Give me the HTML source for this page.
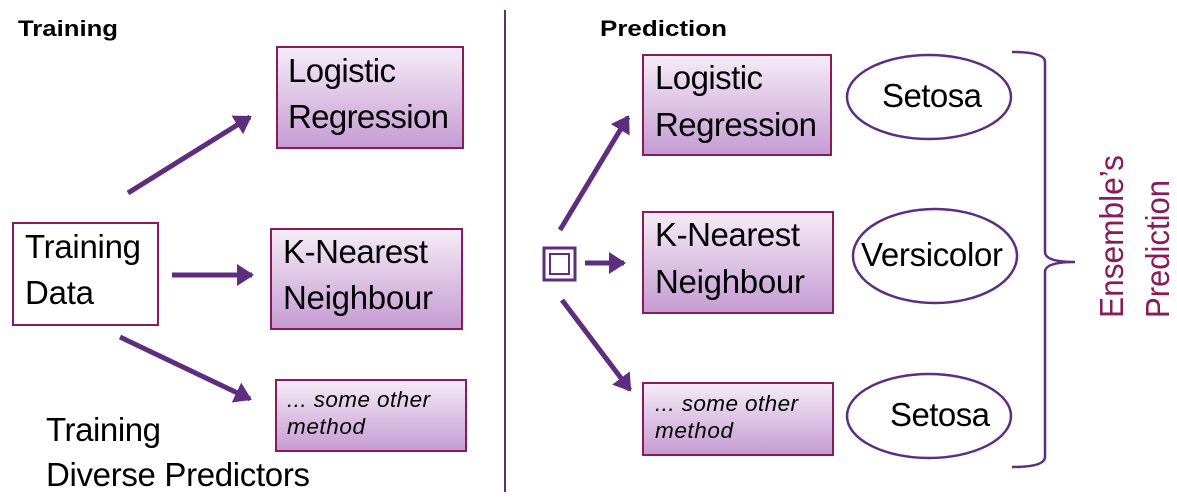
<!DOCTYPE html>
<html><head><style>body{margin:0;background:#fff}svg{display:block}</style></head><body>
<svg width="1177" height="502" viewBox="0 0 1177 502" font-family="Liberation Sans, sans-serif">
<defs>
<linearGradient id="g" x1="0" y1="0" x2="0" y2="1"><stop offset="0" stop-color="#f6ecf7"/><stop offset="1" stop-color="#c59bd3"/></linearGradient>
<marker id="a" markerWidth="6" markerHeight="6" refX="3" refY="3" orient="auto" markerUnits="strokeWidth"><path d="M0,0.8 L3.4,3 L0,5.2 z" fill="#5e2d7e"/></marker>
</defs>
<text x="18" y="36" font-size="22" font-weight="bold" textLength="100" lengthAdjust="spacingAndGlyphs">Training</text>
<text x="600" y="36" font-size="22" font-weight="bold" textLength="127" lengthAdjust="spacingAndGlyphs">Prediction</text>
<line x1="505" y1="10" x2="505" y2="492" stroke="#5e2d7e" stroke-width="2"/>
<g stroke="#8a1a5a" stroke-width="2" fill="url(#g)">
<rect x="277" y="47" width="186" height="101"/>
<rect x="271" y="229" width="191" height="100"/>
<rect x="276" y="380" width="190" height="71"/>
<rect x="643" y="55" width="188" height="100"/>
<rect x="643" y="212" width="190" height="101"/>
<rect x="643" y="383" width="190" height="72"/>
</g>
<rect x="13" y="223" width="145" height="102" fill="#fff" stroke="#8a1a5a" stroke-width="2"/>
<rect x="544" y="248" width="31" height="32" fill="none" stroke="#5e2d7e" stroke-width="3"/>
<rect x="550" y="254" width="19" height="20" fill="none" stroke="#5e2d7e" stroke-width="2"/>
<g stroke="#5e2d7e" stroke-width="5" marker-end="url(#a)" fill="none">
<line x1="128" y1="193" x2="250" y2="117"/>
<line x1="172" y1="275" x2="252" y2="275"/>
<line x1="120" y1="337" x2="250" y2="399"/>
<line x1="560" y1="230" x2="628" y2="117"/>
<line x1="585" y1="263" x2="624" y2="263"/>
<line x1="562" y1="300" x2="630" y2="390"/>
</g>
<g fill="#fff" stroke="#5e2d7e" stroke-width="2.5">
<ellipse cx="929" cy="97" rx="82" ry="42"/>
<ellipse cx="935" cy="256" rx="82" ry="47"/>
<ellipse cx="929" cy="416" rx="82" ry="42"/>
</g>
<path d="M1012,52 Q1045,52 1045,62 L1045,252 Q1045,262 1075,262 Q1045,262 1045,272 L1045,457 Q1045,467 1012,467" fill="none" stroke="#5e2d7e" stroke-width="2.5"/>
<g font-size="33" fill="#000" lengthAdjust="spacingAndGlyphs">
<text x="288" y="82" textLength="108">Logistic</text><text x="288" y="128" textLength="161">Regression</text>
<text x="283" y="263" textLength="145">K-Nearest</text><text x="283" y="309" textLength="150">Neighbour</text>
<text x="655" y="89" textLength="108">Logistic</text><text x="655" y="136" textLength="162">Regression</text>
<text x="655" y="246" textLength="145">K-Nearest</text><text x="655" y="293" textLength="150">Neighbour</text>
<text x="25" y="258" textLength="116">Training</text><text x="25" y="304" textLength="69">Data</text>
<text x="882" y="107" textLength="100">Setosa</text>
<text x="861" y="266" textLength="142">Versicolor</text>
<text x="890" y="426" textLength="100">Setosa</text>
<text x="46" y="441" textLength="115">Training</text>
<text x="46" y="486" textLength="264">Diverse Predictors</text>
</g>
<g font-size="22.5" font-style="italic" lengthAdjust="spacingAndGlyphs">
<text x="287" y="407" textLength="143">... some other</text><text x="287" y="434" textLength="78">method</text>
<text x="655" y="411" textLength="143">... some other</text><text x="655" y="438" textLength="78">method</text>
</g>
<g font-size="33" fill="#8a1a5a">
<text transform="translate(1123,318) rotate(-90)" textLength="163" lengthAdjust="spacingAndGlyphs">Ensemble’s</text>
<text transform="translate(1169,318) rotate(-90)" textLength="138" lengthAdjust="spacingAndGlyphs">Prediction</text>
</g>
</svg>
</body></html>
